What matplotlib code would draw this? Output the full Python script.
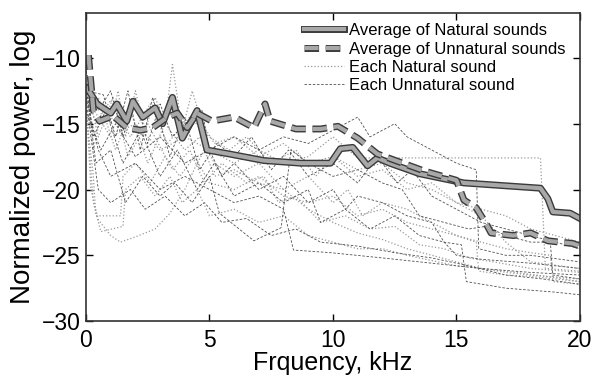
import numpy as np
import matplotlib
matplotlib.use('Agg')
import matplotlib.pyplot as plt
import matplotlib.patheffects as pe

plt.rcParams['font.family'] = ['Liberation Sans', 'DejaVu Sans']

# Average curves (kHz, log power)
nat_avg_f = [0.05, 0.45, 1.0, 1.25, 1.65, 1.9, 2.3, 2.8, 3.1, 3.5, 3.9, 4.5, 4.9, 5.8, 7.2, 8.7, 9.9,
             10.3, 10.8, 11.4, 11.8, 12.3, 13.5, 15.3, 18.4, 18.7, 18.9, 19.6, 20.0]
nat_avg_p = [-12.3, -13.5, -14.2, -13.5, -14.8, -13.3, -14.5, -13.8, -15.0, -13.0, -16.1, -14.0, -17.0,
             -17.3, -17.8, -18.0, -18.0, -16.9, -16.8, -18.2, -17.6, -18.0, -18.8, -19.5, -19.9, -20.7,
             -21.7, -21.8, -22.2]

unnat_avg_f = [0.1, 0.3, 0.55, 1.1, 1.65, 2.2, 2.7, 3.3, 3.7, 4.1, 4.5, 5.1, 6.0, 6.8, 7.25, 7.45, 8.5,
               9.5, 10.2, 11.0, 11.8, 13.7, 15.0, 15.3, 15.8, 16.2, 16.4, 17.3, 18.0, 18.7, 19.7, 20.0]
unnat_avg_p = [-9.8, -14.0, -14.8, -14.4, -15.3, -15.5, -15.3, -14.5, -14.2, -15.3, -14.2, -14.8, -14.5,
               -15.3, -13.5, -14.8, -15.4, -15.4, -15.2, -16.1, -17.3, -18.6, -19.3, -20.8, -21.4, -22.6,
               -23.3, -23.5, -23.3, -23.9, -24.1, -24.3]

# Individual natural sounds
nat_each = [
    ([0, 0.3, 0.7, 1.0, 1.3, 1.6, 2.0, 2.4, 2.8, 3.2, 3.5, 3.9, 4.3, 4.7, 5.2, 6, 7, 8, 9, 10, 11, 12,
      13, 14, 15, 16, 17, 18, 19, 20],
     [-12, -17, -13.5, -15, -12.5, -16, -12.5, -15.5, -13, -15, -10.5, -15.5, -12.5, -15, -16.5, -16,
      -17.5, -16.5, -18, -17.5, -18.5, -18, -19.5, -20, -21, -21.5, -22, -23, -23.5, -24]),
    ([0, 0.2, 0.5, 1.0, 1.4, 2.0, 2.8, 3.4, 4.0, 4.5, 4.8, 5.2, 6, 7, 8, 9, 10, 11, 12, 13, 14, 15, 16,
      17, 18, 20],
     [-13, -20, -22.3, -23.5, -24, -23.6, -23, -21.8, -20, -18, -17, -19, -18.5, -19.5, -20, -21.5,
      -22.5, -23.3, -23.8, -24.5, -25, -25.5, -26, -26.3, -26.5, -26.8]),
    ([0, 0.3, 0.4, 1.4, 1.5, 2.0, 2.6, 3.2, 3.8, 4.4, 5.0, 6.0, 7.0, 8.0, 9.0, 10.0, 11.0, 12.0, 13.0,
      14.0, 15.0, 15.8, 15.9, 17.0, 18.0, 20.0],
     [-14, -19, -22, -22, -19, -18, -19.5, -17.5, -19, -17.5, -19.5, -20, -19, -20.5, -21, -20.5,
      -22, -21.5, -22.5, -23, -23.5, -24, -26.2, -26.5, -26.6, -27]),
    ([0, 1, 2, 3, 4, 5, 6, 7, 8, 9, 10, 11, 15, 18.4, 18.6, 20],
     [-13, -16, -15, -17, -16, -17, -18, -17, -18, -17.5, -16, -17.6, -17.6, -17.6, -26, -26.2]),
    ([0, 0.5, 1.2, 1.8, 2.5, 3.2, 4.0, 4.6, 5.2, 6.0, 7.0, 8.0, 9.0, 10.0, 10.6, 11.2, 12.0, 13.0, 14.0,
      15.0, 16.0, 17.0, 18.0, 18.8, 18.9, 20],
     [-15, -13, -17, -14, -18, -15, -17, -16, -18, -19, -18, -20, -19, -21, -20, -22, -21, -21.5,
      -22.5, -23.5, -24, -24.5, -24.8, -25, -27, -27.2]),
    ([0, 0.4, 1.0, 1.8, 2.6, 3.3, 4.2, 5.0, 5.8, 6.5, 7.5, 8.5, 9.3, 10.0, 11.0, 12.0, 13.0, 14.0, 15.0,
      16.0, 17.0, 18.0, 20.0],
     [-12.5, -15, -13.2, -16, -13.5, -16.5, -14.5, -16, -17, -16, -18, -17, -19, -17.5, -19, -18.5,
      -20, -19.5, -21, -22, -24, -25.5, -26]),
    ([0, 0.3, 0.6, 1.5, 1.6, 2.2, 2.8, 3.4, 3.9, 4.5, 5.0, 6.0, 7.0, 8.0, 9.0, 10.0, 11, 12, 13, 15,
      17, 19, 20],
     [-13.5, -21, -23.2, -22.8, -20, -19, -20.5, -19, -21, -20, -22, -21.5, -22.5, -22, -23.5, -24,
      -24.5, -24.5, -25, -25.8, -26.2, -26.7, -27]),
    ([0, 0.5, 1.1, 1.7, 2.5, 3.5, 4.2, 4.8, 5.5, 6.5, 7.2, 7.8, 8.5, 9.5, 10.5, 11.5, 12.5, 13.5, 14.5,
      15.5, 16.5, 18, 20],
     [-12, -16, -13, -17.5, -15, -18.5, -17, -19.5, -18, -19.5, -19, -21, -20.5, -22.5, -22, -23,
      -22.8, -24.2, -24.5, -25.2, -25.5, -26, -26.3]),
]

# Individual unnatural sounds
unnat_each = [
    ([0, 0.5, 1, 1.5, 2, 2.5, 3, 3.5, 4, 4.7, 5, 6, 7, 8, 9, 10, 11, 11.5, 12.5, 13, 14, 15, 15.8, 15.9,
      17, 18, 20],
     [-11, -14, -12.5, -16, -13, -16.5, -13.5, -16, -15, -14, -17, -16, -17, -16, -16.5, -15.5, -14.5,
      -16, -15, -16, -17, -18, -18.5, -24.5, -25, -25, -25.5]),
    ([0, 0.4, 1, 1.6, 2.3, 3, 3.6, 4.3, 5, 5.4, 6.8, 7.9, 8.3, 9, 10, 11, 12, 12.8, 13.5, 14.5, 15.5,
      16.2, 17, 18, 18.8, 18.9, 20],
     [-12, -18, -17, -21, -19, -20.5, -19.5, -21, -19, -21.8, -23.9, -22.9, -17, -18, -19, -18.5,
      -19.5, -20, -22, -22.5, -23, -22.8, -23.5, -24, -24, -26.5, -26.8]),
    ([0, 0.5, 1, 2, 3, 4, 5, 6, 7, 8, 8.4, 9.9, 12, 14, 16, 18, 20],
     [-13, -17, -19, -18, -20, -19, -20, -21, -20.5, -21.5, -24.6, -24.8, -25.2, -25.6, -26, -26.3,
      -26.5]),
    ([0, 0.6, 1.2, 2, 3, 4, 5, 5.5, 6, 7, 8, 9, 10, 10.5, 11, 12, 13, 14, 14.5, 15, 16, 18, 20],
     [-14, -17, -15, -17.5, -16, -18, -17, -19, -18, -20, -19, -21, -20, -21.5, -20.5, -21, -22,
      -22.5, -24, -25, -25.3, -25.6, -26]),
    ([0, 0.3, 0.8, 1.5, 2.2, 3.0, 3.7, 4.5, 5.2, 6.0, 7.0, 8.0, 9.0, 9.5, 10.5, 11.5, 12.5, 13.5, 14.5,
      15.2, 15.4, 17, 19, 20],
     [-12, -16, -14, -18, -15.5, -19, -17, -20, -18, -20.5, -19.5, -21, -20, -22.5, -21.5, -23,
      -22, -23.5, -24, -24.2, -27, -27.5, -27.8, -28]),
    ([0, 0.7, 1.2, 1.7, 2.2, 2.7, 3.4, 4.0, 4.6, 5.3, 6, 6.7, 7.5, 8.2, 9, 10, 11, 11.8, 12.6, 13.2,
      14, 15, 16, 17, 18, 19, 20],
     [-12.5, -12.8, -16, -12.5, -17, -13, -17.5, -14.5, -18.5, -16.5, -17.5, -16, -18.5, -17, -19,
      -18, -19.5, -17.5, -19.5, -18.5, -20.5, -21.5, -22.5, -23, -23.5, -24, -24.5]),
    ([0, 0.2, 0.5, 1.0, 1.8, 2.4, 3.2, 4.0, 4.8, 5.5, 6.5, 7.5, 8.5, 9.5, 11, 12.5, 14, 15.5, 17, 18.5,
      20],
     [-13, -16, -20, -21, -20, -21.5, -20.5, -22, -21, -22.5, -22.2, -23.5, -23, -24, -24.3, -24.8,
      -25.2, -25.8, -26.5, -26.8, -27.2]),
]

fig = plt.figure(figsize=(5.97, 3.76), dpi=100)
ax = fig.add_axes([0.144, 0.146, 0.8275, 0.819])

for f, p in nat_each:
    ax.plot(f, p, ':', color='#9a9a9a', lw=0.9)
for f, p in unnat_each:
    ax.plot(f, p, color='#505050', lw=0.6, dashes=(3, 2))

edge = [pe.Stroke(linewidth=5, foreground='#3a3a3a'), pe.Normal()]
ax.plot(nat_avg_f, nat_avg_p, color='#a8a8a8', lw=3, path_effects=edge)
ax.plot(unnat_avg_f, unnat_avg_p, color='#a8a8a8', lw=3, dashes=(3.5, 1.6), path_effects=edge)

# legend entries
ax.plot([], [], color='#a8a8a8', lw=3, path_effects=edge, label='Average of Natural sounds')
ax.plot([], [], color='#a8a8a8', lw=3, dashes=(3.5, 1.6), path_effects=edge,
        label='Average of Unnatural sounds')
ax.plot([], [], ':', color='#9a9a9a', lw=0.9, label='Each Natural sound')
ax.plot([], [], color='#505050', lw=0.6, dashes=(3, 2), label='Each Unnatural sound')
h, l = ax.get_legend_handles_labels()
ax.legend(h[-4:], l[-4:], loc='upper left', bbox_to_anchor=(0.418, 1.005), frameon=False,
          fontsize=12, labelspacing=0.2, handlelength=2.4, handletextpad=0.3, borderpad=0.2)

ax.set_xlim(0, 20)
ax.set_ylim(-30, -6.6)
ax.set_xticks([0, 5, 10, 15, 20])
ax.set_yticks([-30, -25, -20, -15, -10])
ax.tick_params(direction='in', top=True, right=True, labelsize=16.5, length=5, width=1)
ax.tick_params(axis='x', pad=6)
ax.tick_params(axis='y', pad=4)
for s in ax.spines.values():
    s.set_color('#333333')
    s.set_linewidth(1.2)
ax.set_xlabel('Frquency, kHz', fontsize=18, labelpad=-1)
ax.set_ylabel('Normalized power, log', fontsize=20, labelpad=4)

fig.savefig('out.png', dpi=100)
